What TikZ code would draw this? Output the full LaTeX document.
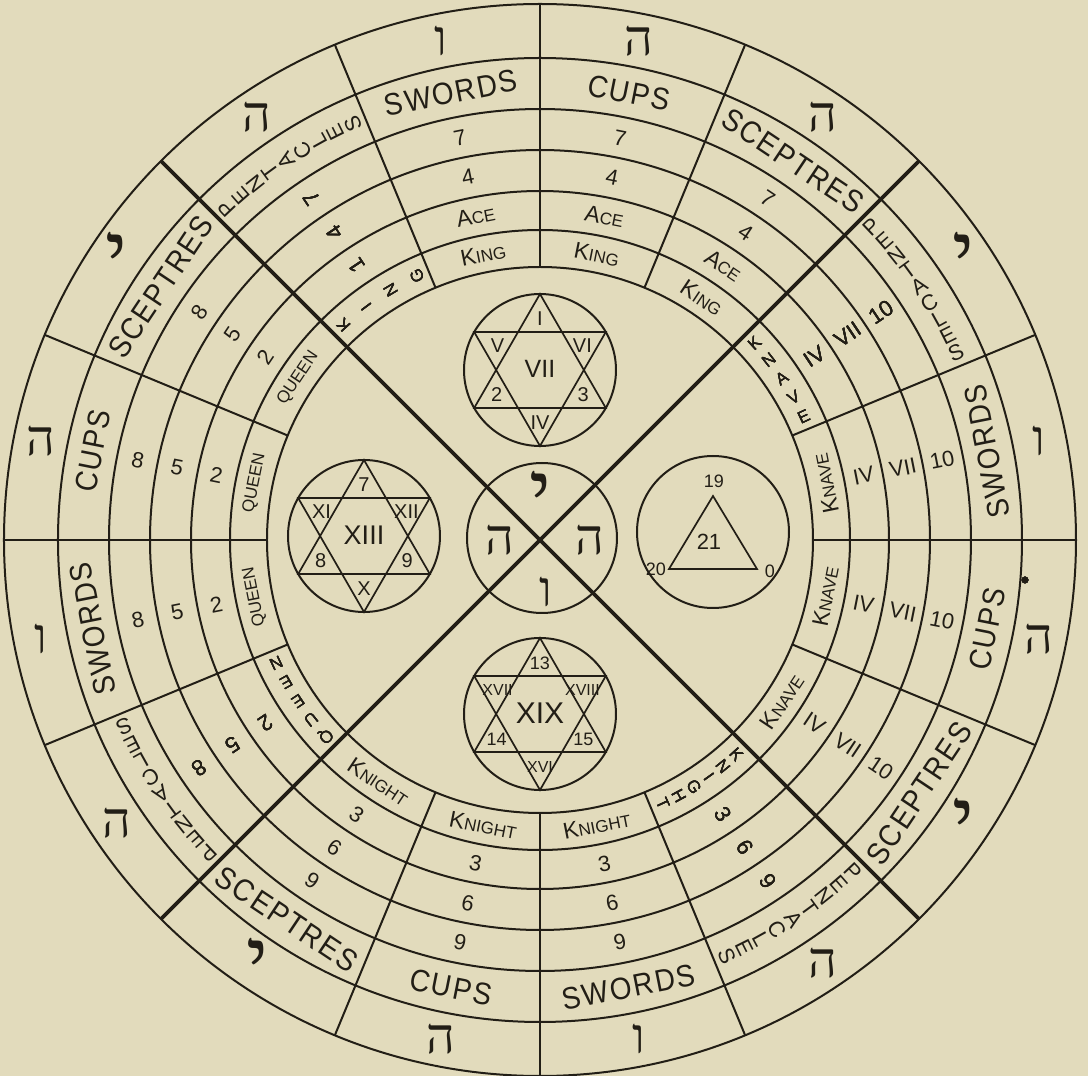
\documentclass[tikz,border=0pt]{standalone}
\usepackage{fontspec}
\setmainfont{Liberation Sans}
\newfontfamily\suitfont[FakeStretch=0.9, LetterSpace=6]{Liberation Sans}
\newfontfamily\hebfont[Script=Hebrew]{Liberation Serif}
\TeXXeTstate=1

\definecolor{paper}{RGB}{226,219,188}
\definecolor{ink}{RGB}{34,30,22}

\newcommand{\fsz}[1]{\fontsize{#1}{#1}\selectfont}
\newcommand{\smcap}[2]{{\fsz{23}#1}{\fsz{17}#2}}
\newcommand{\heb}[1]{{\hebfont\beginR#1\endR}}

% one cell of the wheel: centre angle, turn of words, turn of numbers,
% suit, three numbers, court card
\newcommand{\wheelcell}[8]{%
  \node[suit, rotate=#2] at (#1:456) {#4};
  \node[num, rotate=#3] at (#1:410) {#5};
  \node[num, rotate=#3] at (#1:370) {#6};
  \node[num, rotate=#3] at (#1:330) {#7};
  \node[court, rotate=#2] at (#1:291) {#8};
}
% letters set one by one across a ring
\newcommand{\spreadletters}[5]{%
  \foreach \l [count=\i from 0] in {#5} {
    \pgfmathsetmacro{\lpos}{#1-\i*#2}
    \node[#4, rotate=\lpos] at (\lpos:#3) {\l};
  }
}
% seal: circle, six-pointed star and seven numbers
\newcommand{\seal}[8]{%
  \begin{scope}[shift={(#1)}]
    \draw (0,0) circle (76);
    \draw[star] (90:76) -- (210:76) -- (330:76) -- cycle;
    \draw[star] (270:76) -- (30:76) -- (150:76) -- cycle;
    \node[seallab] at (90:51) {#2};
    \node[seallab] at (150:49) {#3};
    \node[seallab] at (30:49) {#4};
    \node[sealmid] at (0,1) {#5};
    \node[seallab] at (210:50) {#6};
    \node[seallab] at (330:50) {#7};
    \node[seallab] at (270:53) {#8};
  \end{scope}
}

\begin{document}
\begin{tikzpicture}[x=1pt, y=1pt, color=ink, line width=2pt,
    suit/.style={font=\suitfont\fsz{31}, inner sep=1pt},
    num/.style={font=\fsz{22}, inner sep=1pt},
    court/.style={font=\fsz{17}, inner sep=1pt},
    stk/.style={font=\fsz{22}, inner sep=0pt},
    stkc/.style={font=\fsz{17}, inner sep=0pt},
    hebl/.style={font=\hebfont\fsz{50}, inner sep=0pt},
    heby/.style={font=\hebfont\fsz{84}, inner sep=0pt},
    seallab/.style={font=\fsz{20}, inner sep=0pt},
    sealmid/.style={font=\fsz{25}, inner sep=0pt},
    star/.style={line width=1.7pt},
    diag/.style={line width=3.6pt}]

  % paper
  \useasboundingbox (-540,-536) rectangle (548,540);
  \fill[paper] (-540,-536) rectangle (548,540);

  % rings
  \foreach \r in {536,482,431,390,349,310,273}
    \draw (0,0) circle (\r);

  % cell walls and the two long diagonals
  \foreach \a in {0,22.5,67.5,90,112.5,157.5,180,202.5,247.5,270,292.5,337.5}
    \draw (\a:273) -- (\a:536);
  \foreach \a in {45,135,225,315}
    \draw[diag] (0,0) -- (\a:536);

  % Hebrew letters of the outer ring
  \foreach \h/\s [count=\k from 0] in {ו/hebl,י/heby,ה/hebl,ה/hebl,ו/hebl,ה/hebl,י/heby,ה/hebl,
                                      ו/hebl,ה/hebl,י/heby,ה/hebl,ו/hebl,ה/hebl,י/heby,ה/hebl}
    \node[\s] at ({11.25+22.5*\k}:509) {\heb{\h}};

  % top quarter
  \wheelcell{56.25}{-33.75}{-33.75}{SCEPTRES}{7}{4}{\smcap{A}{CE}}{\smcap{K}{ING}}
  \wheelcell{78.75}{-11.25}{-11.25}{CUPS}{7}{4}{\smcap{A}{CE}}{\smcap{K}{ING}}
  \wheelcell{101.25}{11.25}{11.25}{SWORDS}{7}{4}{\smcap{A}{CE}}{\smcap{K}{ING}}
  % left quarter
  \wheelcell{146.25}{56.25}{56.25}{SCEPTRES}{8}{5}{2}{QUEEN}
  \wheelcell{168.75}{78.75}{-11.25}{CUPS}{8}{5}{2}{QUEEN}
  \wheelcell{191.25}{101.25}{11.25}{SWORDS}{8}{5}{2}{QUEEN}
  % bottom quarter
  \wheelcell{236.25}{-33.75}{-33.75}{SCEPTRES}{9}{6}{3}{\smcap{K}{NIGHT}}
  \wheelcell{258.75}{-11.25}{-11.25}{CUPS}{9}{6}{3}{\smcap{K}{NIGHT}}
  \wheelcell{281.25}{11.25}{11.25}{SWORDS}{9}{6}{3}{\smcap{K}{NIGHT}}
  % right quarter
  \wheelcell{326.25}{56.25}{-33.75}{SCEPTRES}{10}{VII}{IV}{\smcap{K}{NAVE}}
  \wheelcell{348.75}{78.75}{-11.25}{CUPS}{10}{VII}{IV}{\smcap{K}{NAVE}}
  \wheelcell{11.25}{101.25}{11.25}{SWORDS}{10}{VII}{IV}{\smcap{K}{NAVE}}

  % pentacles cells
  \foreach \c in {133.4,43.4,223.4,313.4}
    \spreadletters{\c}{2.4}{456}{stk}{P,E,N,T,A,C,L,E,S}
  \spreadletters{132.5}{5.83}{291}{stkc}{K,I,N,G}
  \spreadletters{42.5}{4.375}{291}{stkc}{K,N,A,V,E}
  \spreadletters{222.5}{4.375}{291}{stkc}{Q,U,E,E,N}
  \spreadletters{312.5}{3.5}{291}{stkc}{K,N,I,G,H,T}
  \foreach \c/\x/\y/\z in {123.75/7/4/1, 33.75/10/VII/IV, 213.75/8/5/2, 303.75/9/6/3} {
    \node[num, rotate=\c] at (\c:410) {\x};
    \node[num, rotate=\c] at (\c:370) {\y};
    \node[num, rotate=\c] at (\c:330) {\z};
  }
  \fill (485,-40) circle (3.5);

  % centre with the name
  \draw (2,2) circle (75);
  \node[heby] at (1,44) {\heb{י}};
  \node[hebl] at (-40,0) {\heb{ה}};
  \node[hebl] at (50,0) {\heb{ה}};
  \node[hebl] at (6,-52) {\heb{ו}};

  % seals
  \seal{0,170}{I}{V}{VI}{VII}{2}{3}{IV}
  \seal{-176,4}{7}{XI}{XII}{\fsz{27}XIII}{8}{9}{X}
  \seal{0,-174}{\fsz{18}13}{\fsz{16}XVII}{\fsz{16}XVIII}{\fsz{30}XIX}{\fsz{18}14}{\fsz{18}15}{\fsz{16}XVI}

  % triangle
  \draw (173,8) circle (76);
  \draw[star] (173,44) -- (129,-29) -- (217,-29) -- cycle;
  \node[seallab, font=\fsz{18}] at (174,59) {19};
  \node[seallab, font=\fsz{22}] at (169,-2) {21};
  \node[seallab, font=\fsz{18}] at (116,-29) {20};
  \node[seallab, font=\fsz{18}] at (230,-31) {0};
\end{tikzpicture}
\end{document}
